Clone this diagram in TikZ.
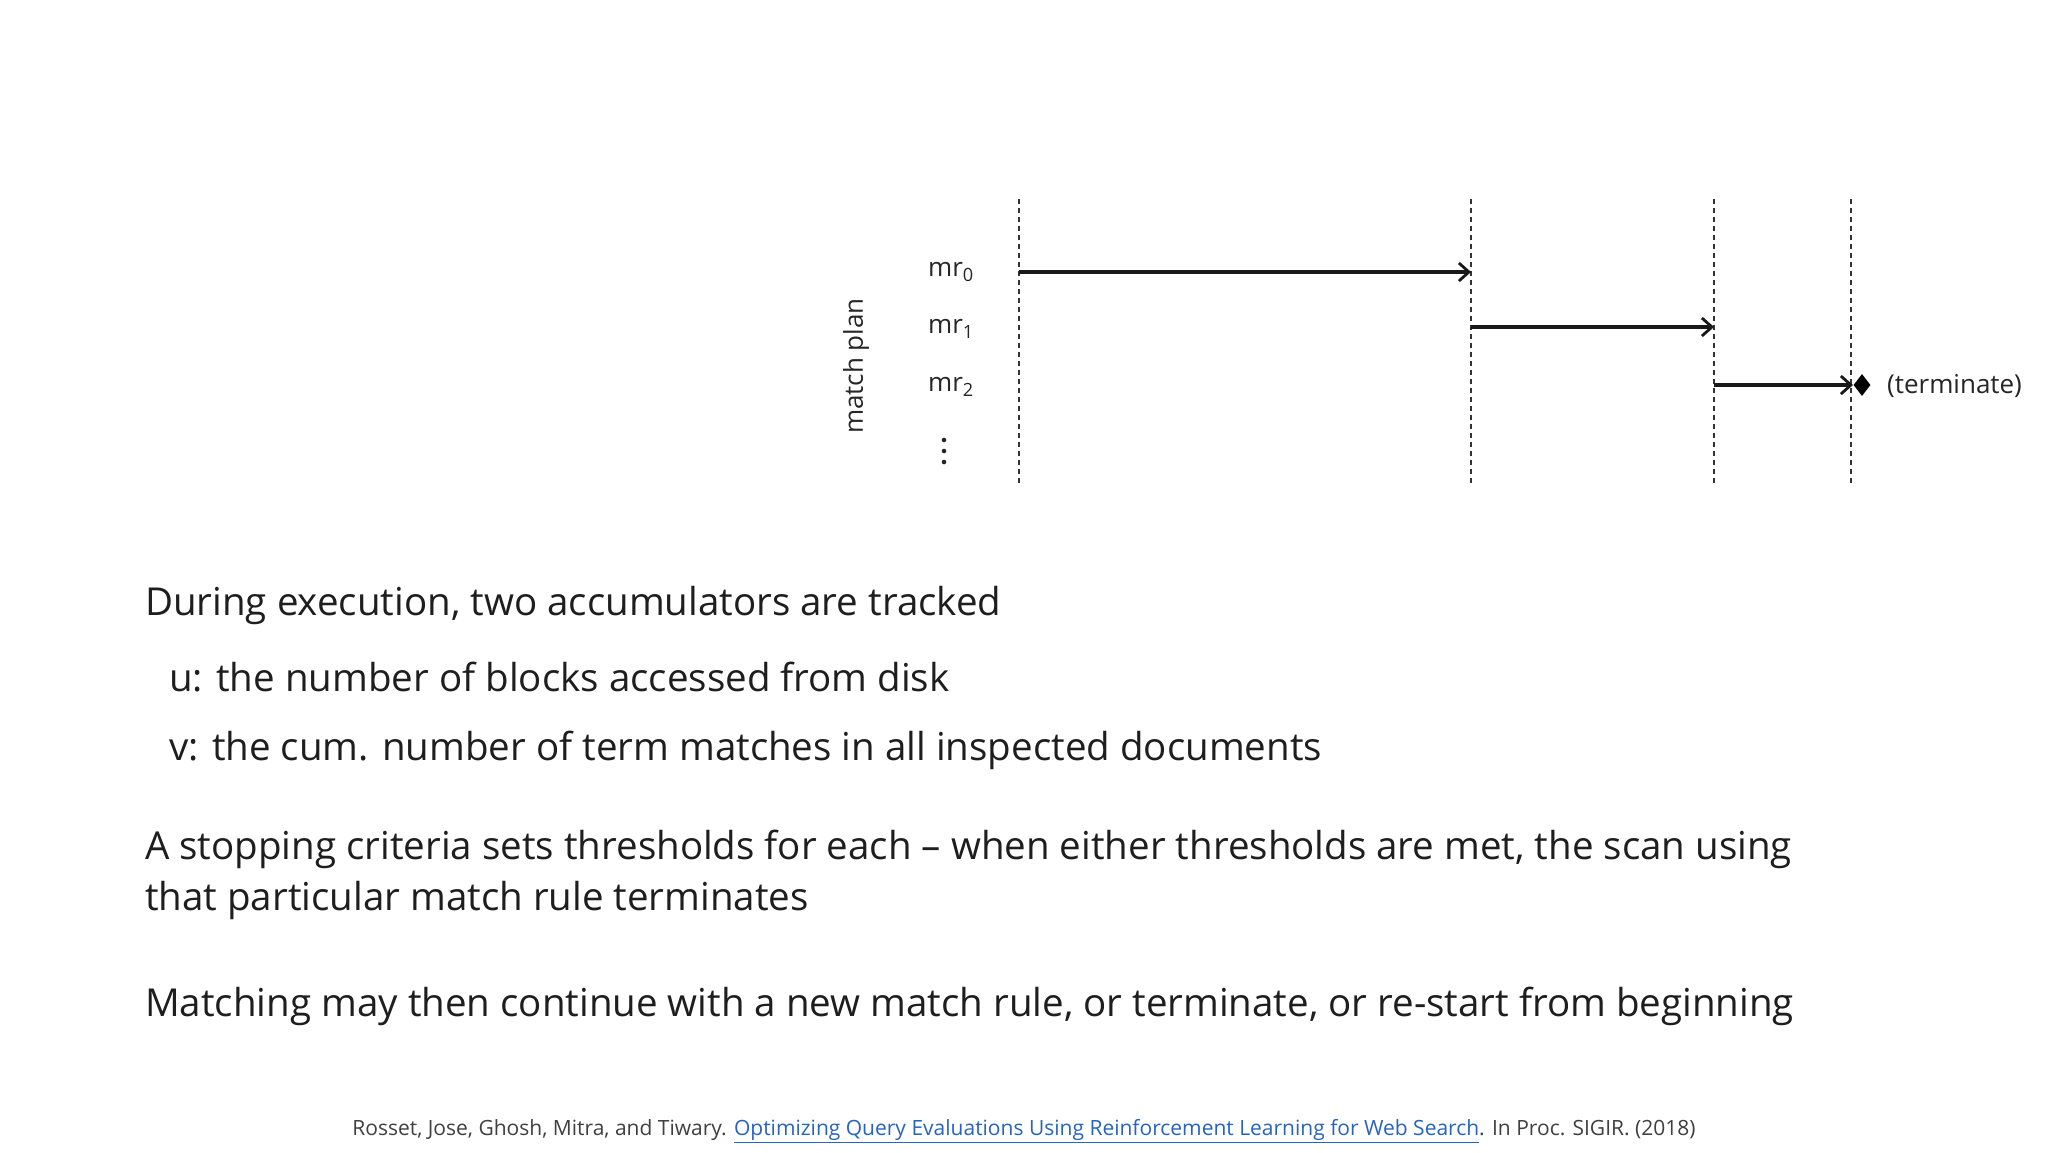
\documentclass[tikz,border=0pt]{standalone}
\usepackage{fontspec}
\setmainfont{Open Sans}
\usetikzlibrary{arrows.meta,shapes.geometric}
\definecolor{txt}{RGB}{30,30,30}
\definecolor{link}{RGB}{40,100,190}
\tikzset{
  dline/.style={dashed,line width=1.3pt,dash pattern=on 5pt off 4pt,black!80},
  marrow/.style={line width=3.4pt,-{Straight Barb[length=10pt,width=18pt,line width=2.8pt]},black!90},
  lbl/.style={font=\fontsize{26}{30}\selectfont,text=black!85,inner sep=0pt},
  body/.style={font=\fontsize{38.5}{51}\selectfont,text=txt,anchor=west,inner sep=0pt},
}
\begin{document}
\begin{tikzpicture}[x=1pt,y=-1pt]
\useasboundingbox[fill=white] (0,0) rectangle (2048,1152);
% dashed lines
\foreach \n/\x in {a/1019,b/1471,c/1714,d/1851}{
  \coordinate (\n t) at (\x,199); \coordinate (\n b) at (\x,483);
  \draw[dline] (\n t) -- (\n b);}
\coordinate (a0) at (1019,272); \coordinate (b0) at (1471,272);
\coordinate (b1) at (1471,327); \coordinate (c1) at (1714,327);
\coordinate (c2) at (1714,385); \coordinate (d2) at (1853,385);
\draw[marrow] (a0) -- (b0);
\draw[marrow] (b1) -- (c1);
\draw[marrow] (c2) -- (d2);
\node[fill=black,diamond,inner sep=0pt,minimum width=17pt,minimum height=22pt] (dia) at (1862,385) {};
\node[lbl,anchor=west] (term) at (1887,386) {(terminate)};
\node[lbl] (m0) at (951,272) {mr\textsubscript{0}};
\node[lbl] (m1) at (951,329) {mr\textsubscript{1}};
\node[lbl] (m2) at (951,387) {mr\textsubscript{2}};
\foreach \y in {440,451,462}{\fill[black!85] (944,\y) circle (2.3pt);}
\node[lbl,rotate=90] (mp) at (856,366) {match plan};
% body text
\node[body] (l1) at (145,605) {During execution, two accumulators are tracked};
\node[body] (l2) at (169,677) {u: the number of blocks accessed from disk};
\node[body] (l3) at (169,750) {v: the cum. number of term matches in all inspected documents};
\node[body,align=left,anchor=north west] (l4) at (145,830) {A stopping criteria sets thresholds for each -- when either thresholds are met, the scan using\\that particular match rule terminates};
\node[body] (l5) at (145,1006) {Matching may then continue with a new match rule, or terminate, or re-start from beginning};
\node[font=\fontsize{21}{25}\selectfont,text=black!75,inner sep=0pt] (cite) at (1024,1131) {Rosset, Jose, Ghosh, Mitra, and Tiwary. {\color{link}\underline{Optimizing Query Evaluations Using Reinforcement Learning for Web Search}}. In Proc. SIGIR. (2018)};
\end{tikzpicture}
\end{document}
